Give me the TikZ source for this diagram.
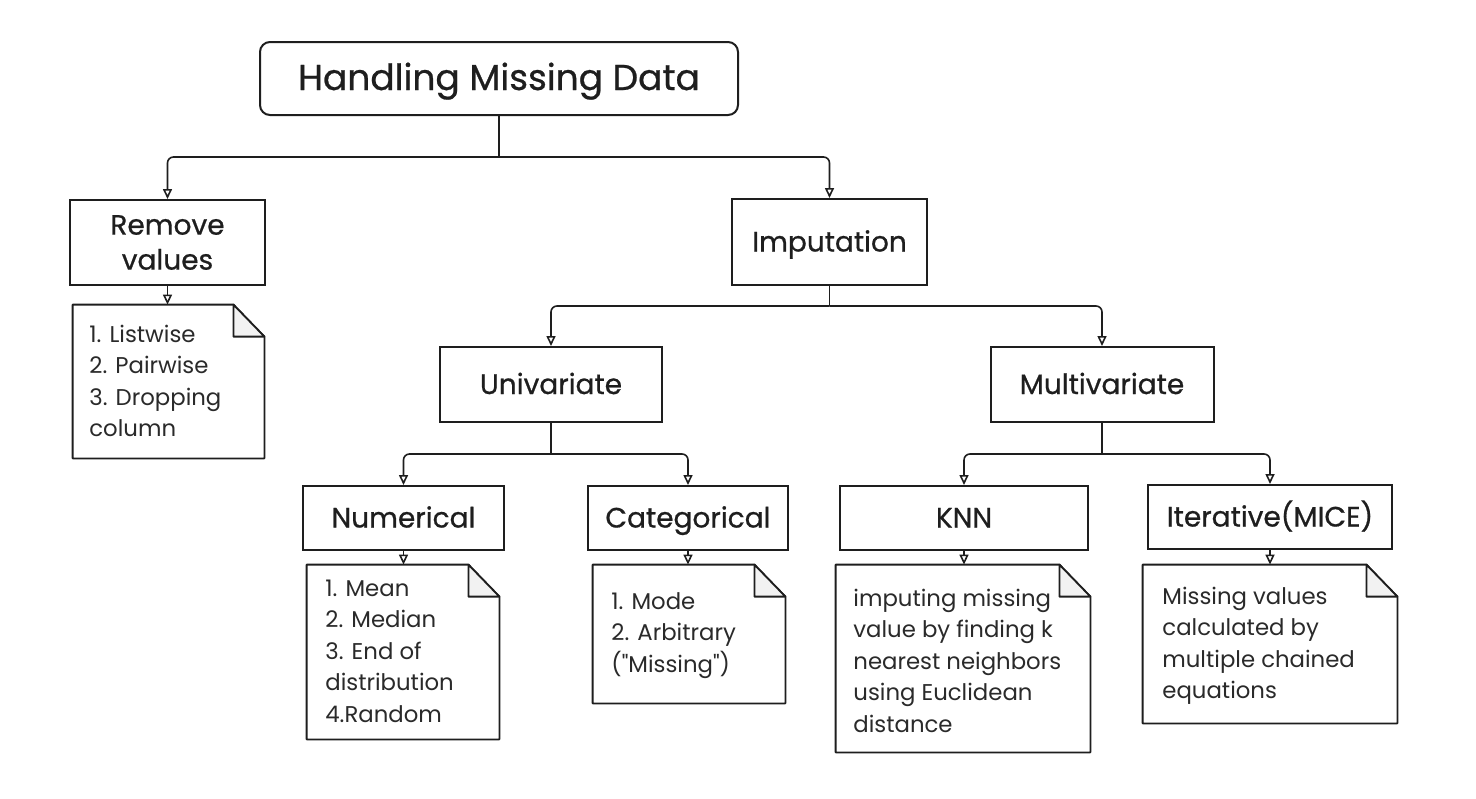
\documentclass[tikz,border=0pt]{standalone}
\usepackage{fontspec}
\setmainfont{Poppins}
\newfontfamily\boxfamily{Poppins}[FakeBold=0.7]
\usetikzlibrary{arrows.meta}
\definecolor{ink}{HTML}{1E1E1E}
\definecolor{notetext}{HTML}{2A2A2A}
\definecolor{foldgray}{HTML}{F2F2F2}
\tikzset{
  boxbase/.style={draw=ink, line width=1pt, fill=white, inner sep=0pt, align=center,
              font=\boxfamily\fontsize{14}{17.5}\selectfont, text=ink},
  box/.style={boxbase, text height=10.5pt, text depth=1pt},
  titlebox/.style={boxbase, rounded corners=5pt, text height=13pt, text depth=1.5pt,
              font=\boxfamily\fontsize{18}{22}\selectfont},
  notebg/.style={draw=none, inner sep=0pt},
  notestroke/.style={draw=ink, line width=0.9pt, line join=round},
  notetxt/.style={anchor=north west, inner sep=0pt, align=left, text=notetext,
                  font=\fontsize{11.4}{15.75}\selectfont},
  conn/.style={draw=ink, line width=0.8pt, rounded corners=3pt},
  arr/.style={conn, -{Triangle[open, length=5pt, width=4.5pt]}},
}
\newcommand{\foldnote}[1]{%
  \draw[notestroke, fill=white] (#1.north west) -- ([xshift=-15.5pt]#1.north east)
     -- ([yshift=-16pt]#1.north east) -- (#1.south east) -- (#1.south west) -- cycle;
  \filldraw[notestroke, fill=foldgray] ([xshift=-15.5pt]#1.north east)
     -- ([xshift=-15.5pt,yshift=-16pt]#1.north east) -- ([yshift=-16pt]#1.north east) -- cycle;}
\begin{document}
\begin{tikzpicture}[x=0.5pt, y=-0.5pt]
\useasboundingbox[fill=white] (0,0) rectangle (1476,798);

% boxes
\node[titlebox, minimum width=239pt, minimum height=36.5pt] (title) at (499,78.5) {Handling Missing Data};
\node[boxbase, minimum width=97.5pt, minimum height=42.5pt] (remove) at (167.5,242.5) {Remove\\values};
\node[box, minimum width=97.5pt, minimum height=43pt] (imput) at (829.5,242) {Imputation};
\node[box, minimum width=111pt, minimum height=37.5pt] (univ) at (551,384.5) {Univariate};
\node[box, minimum width=111.5pt, minimum height=37.5pt] (multi) at (1102,384.5) {Multivariate};
\node[box, minimum width=100.5pt, minimum height=32pt] (num) at (403.5,518) {Numerical};
\node[box, minimum width=100pt, minimum height=32pt] (cat) at (688,518) {Categorical};
\node[box, minimum width=124pt, minimum height=32pt] (knn) at (964,518) {KNN};
\node[box, minimum width=122pt, minimum height=32pt] (iter) at (1270,517) {Iterative(MICE)};

% notes
\node[notebg, minimum width=95.5pt, minimum height=76.5pt] (n1) at (168.5,381.5) {};
\node[notebg, minimum width=96pt, minimum height=87pt] (nnum) at (403,652) {};
\node[notebg, minimum width=96pt, minimum height=69pt] (ncat) at (689,634) {};
\node[notebg, minimum width=127pt, minimum height=93.5pt] (nknn) at (963,658.5) {};
\node[notebg, minimum width=127pt, minimum height=79pt] (niter) at (1270,644) {};
\foldnote{n1}
\foldnote{nnum}
\foldnote{ncat}
\foldnote{nknn}
\foldnote{niter}

\node[notetxt] (t1) at (89,320) {\strut 1. Listwise\\2. Pairwise\\3. Dropping\\column};
\node[notetxt] (tnum) at (325,574) {\strut 1. Mean\\2. Median\\3. End of\\distribution\\4.Random};
\node[notetxt] (tcat) at (611,587) {\strut 1. Mode\\2. Arbitrary\\({\addfontfeatures{Ligatures=TeXOff}"Missing"})};
\node[notetxt] (tknn) at (853,584) {\strut imputing missing\\value by finding k\\nearest neighbors\\using Euclidean\\distance};
\node[notetxt] (titer) at (1162,582) {\strut Missing values\\calculated by\\multiple chained\\equations};

% connectors
\coordinate (j1) at (499,157);
\coordinate (j2) at (829.5,306);
\coordinate (j3) at (551,454);
\coordinate (j4) at (1102,454);
\draw[conn] (title.south) -- (j1);
\draw[arr] (j1) -| (remove.north);
\draw[arr] (j1) -| (imput.north);
\draw[conn] (imput.south) -- (j2);
\draw[arr] (j2) -| (univ.north);
\draw[arr] (j2) -| (multi.north);
\draw[conn] (univ.south) -- (j3);
\draw[arr] (j3) -| (num.north);
\draw[arr] (j3) -| (cat.north);
\draw[conn] (multi.south) -- (j4);
\draw[arr] (j4) -| (knn.north);
\draw[arr] (j4) -| (iter.north);
\draw[arr] (remove.south) -- (remove.south |- n1.north);
\draw[arr] (num.south) -- (num.south |- nnum.north);
\draw[arr] (cat.south) -- (cat.south |- ncat.north);
\draw[arr] (knn.south) -- (knn.south |- nknn.north);
\draw[arr] (iter.south) -- (iter.south |- niter.north);
\end{tikzpicture}
\end{document}
